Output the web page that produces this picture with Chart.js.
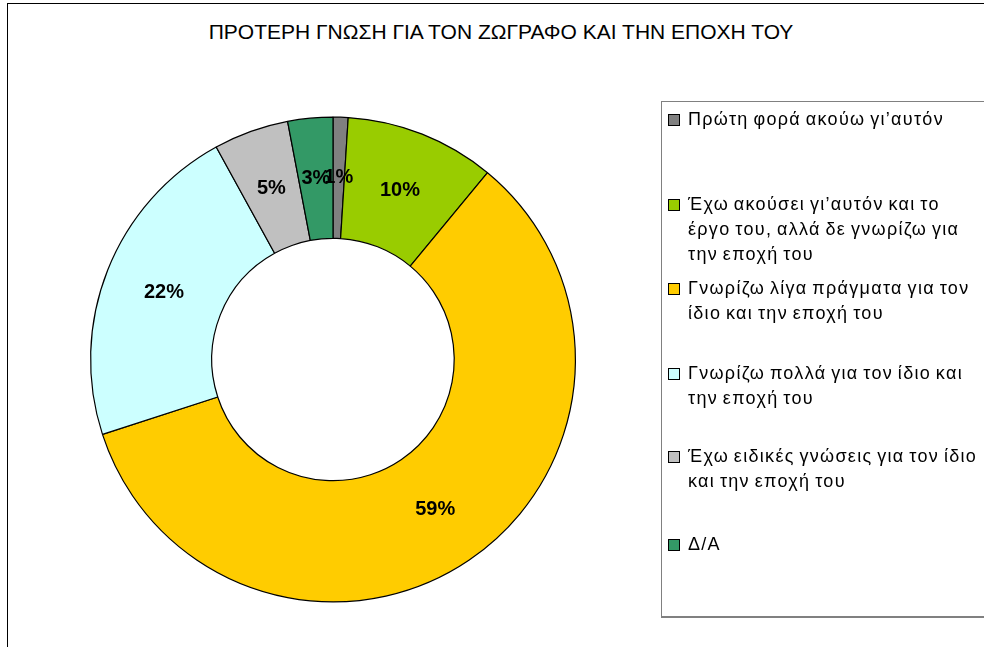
<!DOCTYPE html>
<html>
<head>
<meta charset="utf-8">
<script src="https://cdn.jsdelivr.net/npm/chart.js@4"></script>
<style>
  html,body{margin:0;padding:0;background:#fff;}
  #wrap{position:relative;width:984px;height:647px;overflow:hidden;font-family:"Liberation Sans",Arial,sans-serif;}
  #frame{position:absolute;left:7px;top:3px;width:1000px;height:700px;border:1px solid #000;box-sizing:border-box;}
  #title{position:absolute;left:0;top:20px;width:1002px;text-align:center;font-size:21px;color:#000;}
  #chartBox{position:absolute;left:0;top:0;width:984px;height:647px;}
  #legend{position:absolute;left:661px;top:101px;width:340px;height:517px;border:1px solid #808080;border-bottom:2px solid #808080;box-sizing:border-box;}
  .item{position:absolute;left:6px;font-size:18px;line-height:25px;letter-spacing:1.3px;word-spacing:-1.5px;color:#000;white-space:nowrap;}
  .sw{position:absolute;left:0;top:7px;width:10px;height:10px;border:1px solid #000;}
  .txt{position:absolute;left:20px;top:0;}
</style>
</head>
<body>
<div id="wrap">
  <div id="frame"></div>
  <div id="title">ΠΡΟΤΕΡΗ ΓΝΩΣΗ ΓΙΑ ΤΟΝ ΖΩΓΡΑΦΟ ΚΑΙ ΤΗΝ ΕΠΟΧΗ ΤΟΥ</div>
  <div id="chartBox"><canvas id="c" width="984" height="647"></canvas></div>
  <div id="legend"></div>
</div>
<script>
const categories = [
  ["Πρώτη φορά ακούω γι’αυτόν"],
  ["Έχω ακούσει γι’αυτόν και το", "έργο του, αλλά δε γνωρίζω για", "την εποχή του"],
  ["Γνωρίζω λίγα πράγματα για τον", "ίδιο και την εποχή του"],
  ["Γνωρίζω πολλά για τον ίδιο και", "την εποχή του"],
  ["Έχω ειδικές γνώσεις για τον ίδιο", "και την εποχή του"],
  ["Δ/Α"]
];
const percentages = [1, 10, 59, 22, 5, 3];
const colors = ["#808080", "#99CC00", "#FFCC00", "#CCFFFF", "#C0C0C0", "#339966"];
const legendTops = [5, 90, 174, 259, 342, 430];

// legend
const lg = document.getElementById('legend');
categories.forEach((lines, i) => {
  const it = document.createElement('div');
  it.className = 'item';
  it.style.top = legendTops[i] + 'px';
  const sw = document.createElement('div');
  sw.className = 'sw';
  sw.style.background = colors[i];
  const tx = document.createElement('div');
  tx.className = 'txt';
  tx.innerHTML = lines.join('<br>');
  it.appendChild(sw); it.appendChild(tx);
  lg.appendChild(it);
});

const labelPlugin = {
  id: 'sliceLabels',
  afterDatasetsDraw(chart) {
    const ctx = chart.ctx;
    const meta = chart.getDatasetMeta(0);
    ctx.save();
    ctx.font = 'bold 20px "Liberation Sans", Arial, sans-serif';
    ctx.fillStyle = '#000';
    ctx.textAlign = 'center';
    ctx.textBaseline = 'middle';
    meta.data.forEach((arc, i) => {
      const p = arc.getProps(['x','y','startAngle','endAngle','innerRadius','outerRadius'], true);
      const a = (p.startAngle + p.endAngle) / 2;
      const r = (p.innerRadius + p.outerRadius) / 2;
      ctx.fillText(percentages[i] + '%', p.x + Math.cos(a) * r, p.y + Math.sin(a) * r);
    });
    ctx.restore();
  }
};

new Chart(document.getElementById('c'), {
  type: 'doughnut',
  data: {
    labels: categories.map(l => l.join(' ')),
    datasets: [{
      data: percentages,
      backgroundColor: colors,
      borderColor: '#000',
      borderWidth: 1.2,
      borderAlign: 'center'
    }]
  },
  options: {
    responsive: false,
    animation: false,
    cutout: '50%',
    layout: { padding: { left: 90, right: 408, top: 116, bottom: 44 } },
    plugins: { legend: { display: false }, tooltip: { enabled: false }, title: { display: false } }
  },
  plugins: [labelPlugin]
});
</script>
</body>
</html>
